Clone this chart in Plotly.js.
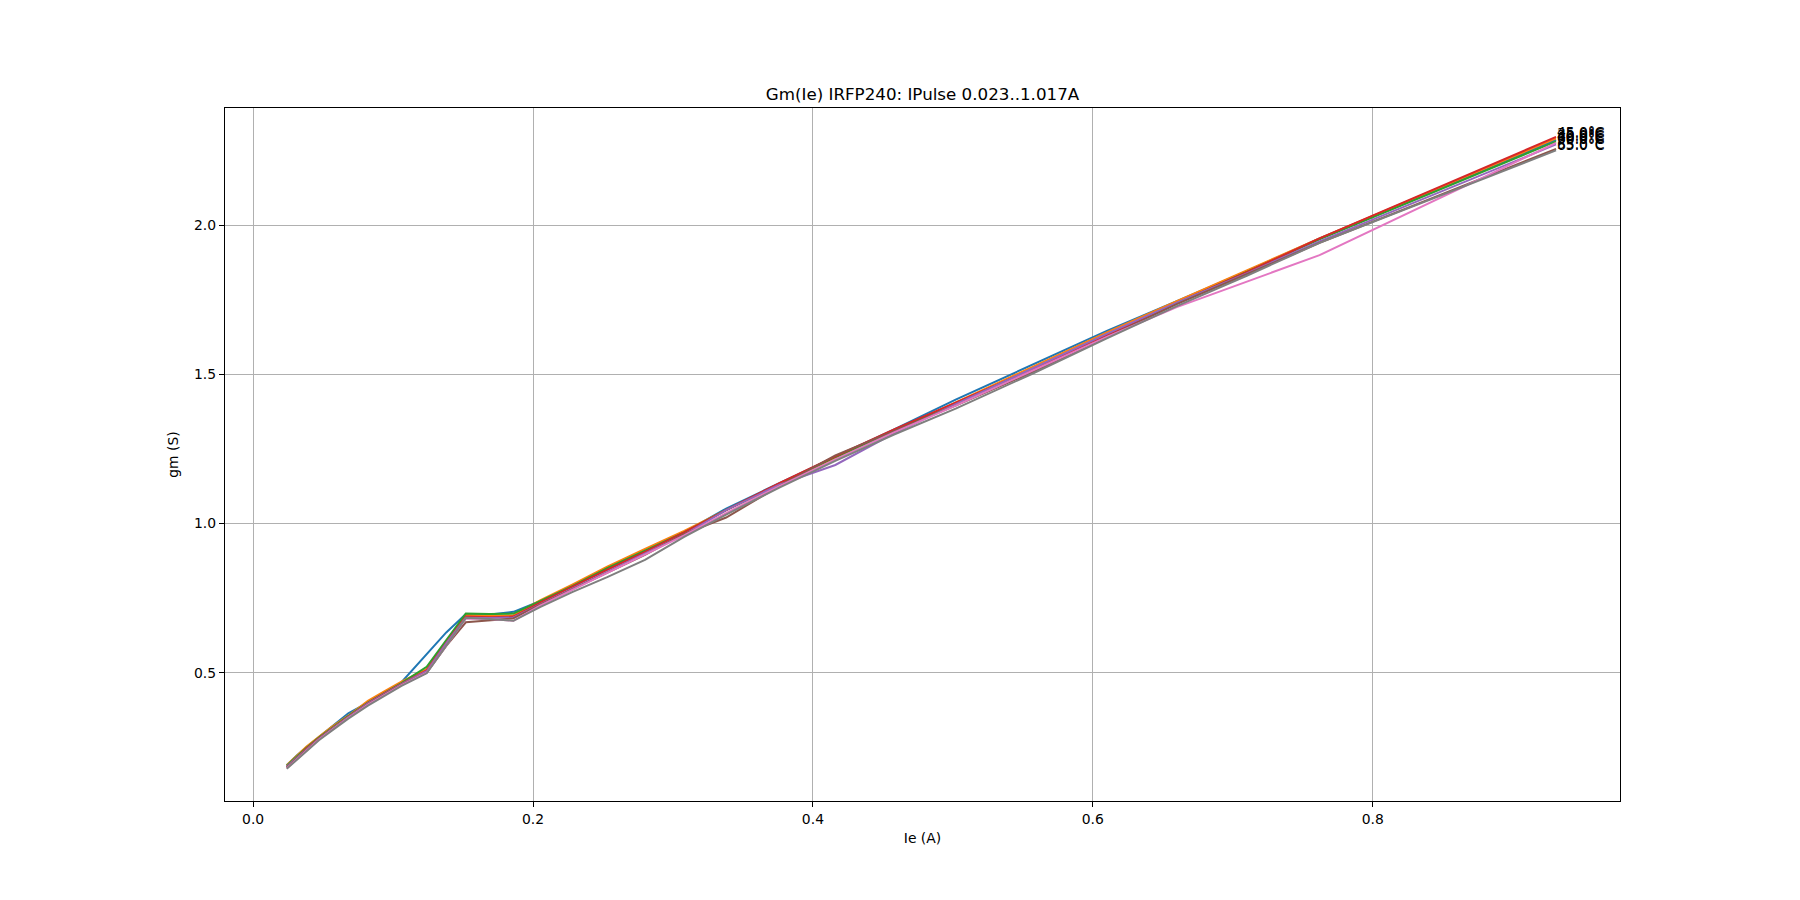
<!DOCTYPE html>
<html>
<head>
<meta charset="utf-8">
<script src="https://cdn.plot.ly/plotly-3.0.1.min.js"></script>
<style>html,body{margin:0;padding:0;background:#fff;}#chart{width:1800px;height:900px;}</style>
</head>
<body>
<div id="chart"></div>
<script>
// Emitter current (A), shared sample points
const ieA = [0.024,0.031,0.038,0.047,0.056,0.068,0.082,0.094,0.106,0.124,0.138,0.152,0.169,0.186,0.205,0.228,0.253,0.280,0.308,0.338,0.376,0.416,0.458,0.502,0.556,0.610,0.660,0.710,0.762,0.931];

// gm (S) per case temperature
const gm30 = [0.190,0.222,0.250,0.285,0.318,0.364,0.400,0.432,0.468,0.560,0.635,0.697,0.695,0.704,0.740,0.790,0.845,0.905,0.970,1.050,1.135,1.222,1.315,1.415,1.530,1.645,1.745,1.845,1.955,2.285];
const gm35 = [0.190,0.220,0.252,0.285,0.318,0.356,0.406,0.438,0.470,0.512,0.605,0.693,0.690,0.692,0.742,0.795,0.855,0.915,0.975,1.045,1.130,1.220,1.310,1.405,1.522,1.640,1.745,1.848,1.955,2.290];
const gm40 = [0.188,0.218,0.248,0.283,0.315,0.355,0.400,0.432,0.465,0.520,0.610,0.698,0.697,0.698,0.740,0.790,0.850,0.910,0.970,1.045,1.130,1.222,1.310,1.402,1.515,1.632,1.738,1.842,1.952,2.280];
const gm45 = [0.182,0.215,0.245,0.280,0.312,0.352,0.398,0.432,0.463,0.508,0.600,0.688,0.686,0.688,0.735,0.788,0.845,0.905,0.970,1.045,1.135,1.225,1.315,1.405,1.515,1.630,1.738,1.842,1.955,2.295];
const gm50 = [0.186,0.214,0.244,0.279,0.311,0.352,0.397,0.430,0.462,0.505,0.598,0.684,0.683,0.685,0.730,0.782,0.838,0.898,0.963,1.045,1.130,1.196,1.302,1.400,1.518,1.635,1.740,1.838,1.945,2.270];
const gm55 = [0.183,0.212,0.243,0.278,0.310,0.350,0.395,0.428,0.460,0.500,0.590,0.669,0.675,0.682,0.728,0.780,0.835,0.895,0.965,1.020,1.125,1.228,1.310,1.395,1.505,1.625,1.735,1.835,1.940,2.255];
const gm60 = [0.180,0.210,0.240,0.276,0.308,0.349,0.393,0.426,0.458,0.500,0.592,0.682,0.680,0.674,0.725,0.778,0.835,0.898,0.960,1.035,1.125,1.215,1.305,1.395,1.510,1.625,1.725,1.810,1.899,2.275];
const gm65 = [0.178,0.208,0.238,0.274,0.305,0.346,0.390,0.424,0.456,0.498,0.590,0.684,0.680,0.674,0.720,0.770,0.820,0.878,0.955,1.030,1.120,1.210,1.298,1.385,1.500,1.620,1.728,1.830,1.940,2.250];

const tempLabels = ["30.0°C","35.0°C","40.0°C","45.0°C","50.0°C","55.0°C","60.0°C","65.0°C"];
const seriesList = [gm30,gm35,gm40,gm45,gm50,gm55,gm60,gm65];
const colors = ["#1f77b4","#ff7f0e","#2ca02c","#d62728","#9467bd","#8c564b","#e377c2","#7f7f7f"];

const FONT = "DejaVu Sans, sans-serif";

const traces = seriesList.map((ys, i) => ({
  x: ieA, y: ys, type: "scatter", mode: "lines", name: tempLabels[i],
  line: {color: colors[i], width: 2}, showlegend: false, hoverinfo: "x+y+name"
}));

const annotations = seriesList.map((ys, i) => ({
  x: ieA[ieA.length - 1], y: ys[ys.length - 1], xref: "x", yref: "y",
  text: tempLabels[i], showarrow: false, xanchor: "left", yanchor: "bottom",
  xshift: -1, yshift: -5,
  font: {family: FONT, size: 13.9, color: "#000"}
}));

const layout = {
  width: 1800, height: 900,
  paper_bgcolor: "#fff", plot_bgcolor: "#fff",
  margin: {l: 225, r: 180, t: 108, b: 99, pad: 0},
  font: {family: FONT, size: 13.9, color: "#000"},
  title: {text: "Gm(Ie) IRFP240: IPulse 0.023..1.017A", x: 0.5, xref: "paper",
          y: 1 - 94/900, yref: "container", yanchor: "middle",
          font: {family: FONT, size: 16.7, color: "#000"}},
  xaxis: {
    range: [-0.0201, 0.9767], tickvals: [0,0.2,0.4,0.6,0.8], ticktext: ["0.0","0.2","0.4","0.6","0.8"],
    showgrid: true, gridcolor: "#b0b0b0", gridwidth: 1, zeroline: false,
    showline: true, linecolor: "#000", linewidth: 1.1, mirror: true,
    ticks: "outside", ticklen: 5, tickwidth: 1, tickcolor: "#000",
    tickfont: {family: FONT, size: 13.9, color: "#000"},
    title: {text: "Ie (A)", standoff: 7, font: {family: FONT, size: 13.9, color: "#000"}}
  },
  yaxis: {
    range: [0.0702, 2.392], tickvals: [0.5,1.0,1.5,2.0], ticktext: ["0.5","1.0","1.5","2.0"],
    showgrid: true, gridcolor: "#b0b0b0", gridwidth: 1, zeroline: false,
    showline: true, linecolor: "#000", linewidth: 1.1, mirror: true,
    ticks: "outside", ticklen: 5, tickwidth: 1, tickcolor: "#000",
    tickfont: {family: FONT, size: 13.9, color: "#000"},
    title: {text: "gm (S)", standoff: 12, font: {family: FONT, size: 13.9, color: "#000"}}
  },
  annotations: annotations
};

Plotly.newPlot("chart", traces, layout, {displayModeBar: false, staticPlot: true});
</script>
</body>
</html>
